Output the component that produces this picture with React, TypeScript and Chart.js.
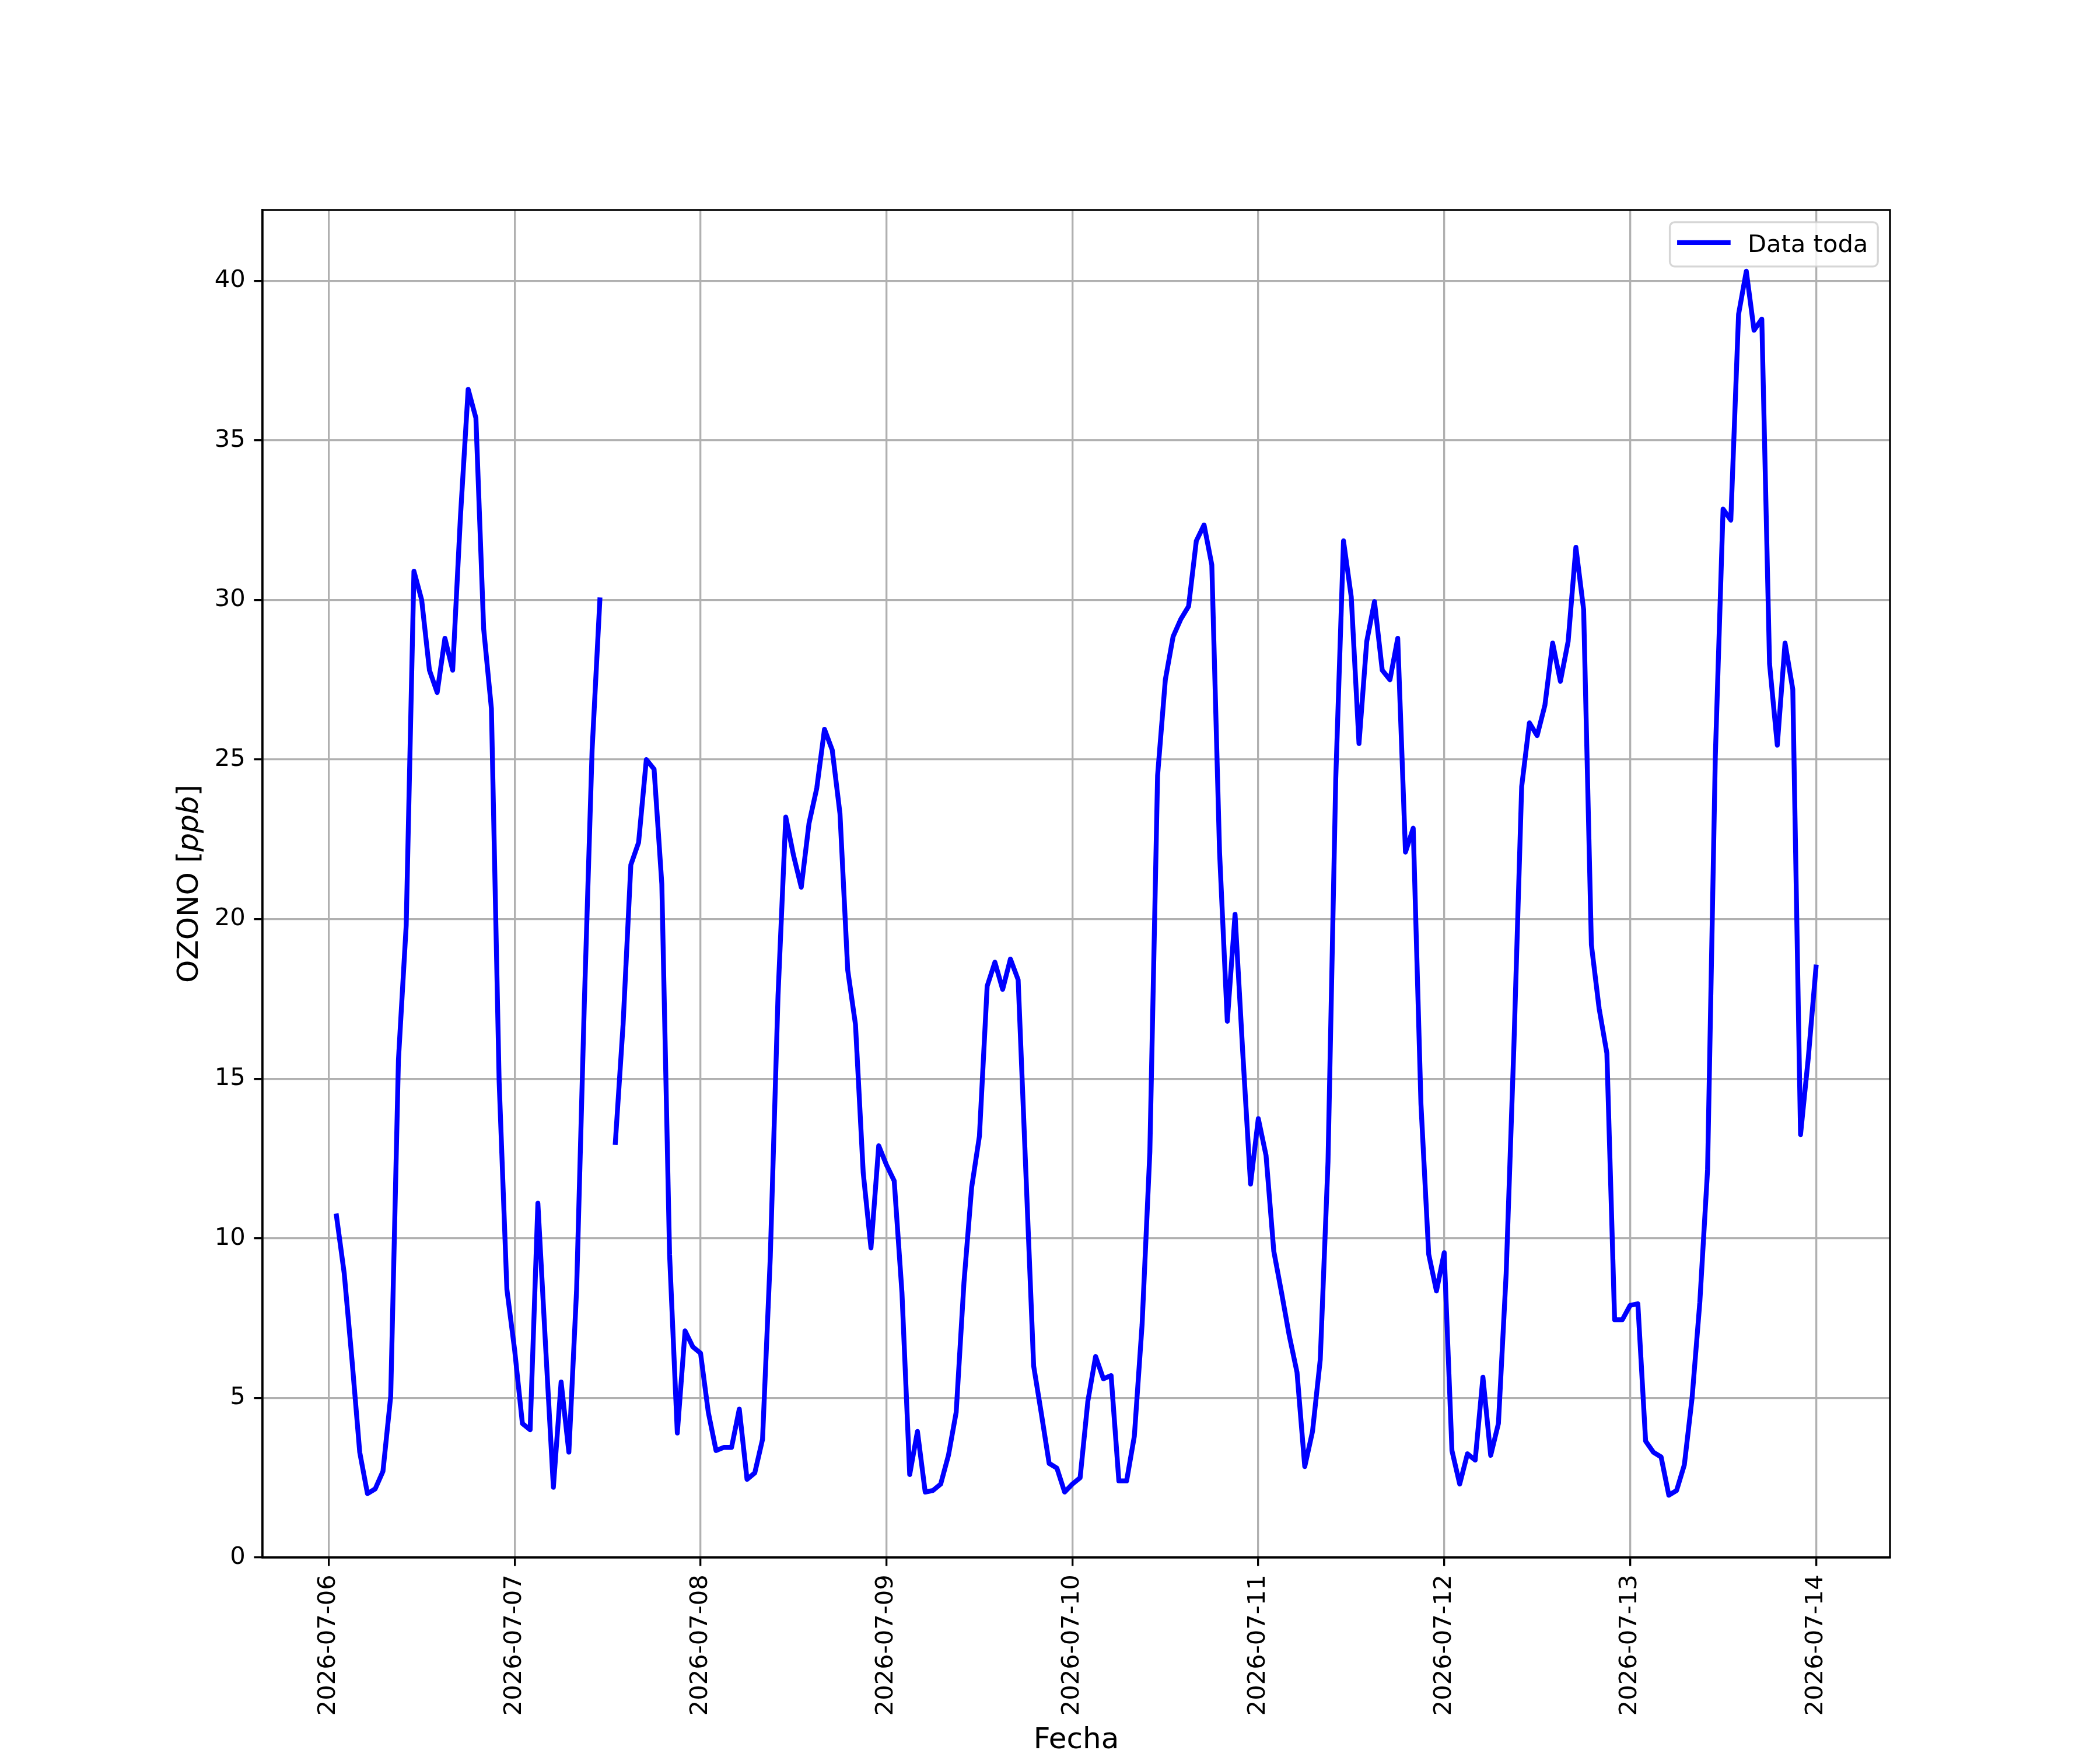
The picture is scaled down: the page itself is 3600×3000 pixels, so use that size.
import React, { useEffect, useRef } from 'react';
import { Chart, registerables } from 'chart.js';

Chart.register(...registerables);

// Tick labels (one per day, ticks every 24 h from 2026-07-06 00:00)
const dayLabels = [
  '2026-07-06', '2026-07-07', '2026-07-08', '2026-07-09', '2026-07-10',
  '2026-07-11', '2026-07-12', '2026-07-13', '2026-07-14',
];

// Hourly ozone [ppb], hours 01:00 .. 24:00 of each day (null = missing)
const ozoneJul06 = [10.7, 8.9, 6.2, 3.3, 2.0, 2.15, 2.7, 5.05, 15.6, 19.8, 30.9, 30.0, 27.8, 27.1, 28.8, 27.8, 32.6, 36.6, 35.7, 29.1, 26.6, 14.9, 8.4, 6.5];
const ozoneJul07 = [4.2, 4.0, 11.1, 6.6, 2.2, 5.5, 3.3, 8.4, 17.4, 25.3, 30.0, null, 13.0, 16.7, 21.7, 22.4, 25.0, 24.7, 21.1, 9.5, 3.9, 7.1, 6.6, 6.4];
const ozoneJul08 = [4.55, 3.35, 3.45, 3.45, 4.65, 2.45, 2.65, 3.7, 9.4, 17.6, 23.2, 22.0, 21.0, 23.0, 24.1, 25.95, 25.3, 23.3, 18.4, 16.7, 12.05, 9.7, 12.9, 12.3];
const ozoneJul09 = [11.8, 8.3, 2.6, 3.95, 2.05, 2.1, 2.3, 3.2, 4.55, 8.6, 11.6, 13.2, 17.9, 18.65, 17.8, 18.75, 18.1, 12.05, 6.0, 4.5, 2.95, 2.8, 2.05, 2.3];
const ozoneJul10 = [2.5, 4.9, 6.3, 5.6, 5.7, 2.4, 2.4, 3.8, 7.3, 12.7, 24.5, 27.5, 28.85, 29.4, 29.8, 31.85, 32.35, 31.1, 22.1, 16.8, 20.15, 15.8, 11.7, 13.75];
const ozoneJul11 = [12.6, 9.6, 8.3, 6.95, 5.8, 2.85, 3.95, 6.2, 12.4, 24.4, 31.85, 30.1, 25.5, 28.7, 29.95, 27.8, 27.5, 28.8, 22.1, 22.85, 14.2, 9.5, 8.35, 9.55];
const ozoneJul12 = [3.35, 2.3, 3.25, 3.05, 5.65, 3.2, 4.2, 8.9, 16.05, 24.15, 26.15, 25.75, 26.7, 28.65, 27.45, 28.7, 31.65, 29.7, 19.2, 17.2, 15.8, 7.45, 7.45, 7.9];
const ozoneJul13 = [7.95, 3.65, 3.3, 3.15, 1.95, 2.1, 2.9, 5.0, 8.0, 12.15, 25.1, 32.85, 32.5, 38.95, 40.3, 38.45, 38.8, 28.0, 25.45, 28.65, 27.2, 13.25, 15.65, 18.5];

const yTickValues = [0, 5, 10, 15, 20, 25, 30, 35, 40];

const seriesLabel = 'Data toda';
const xTitle = 'Fecha';
const yTitleMain = 'OZONO [';
const yTitleUnit = 'ppb';
const yTitleEnd = ']';

const W = 3600;
const H = 3000;
const FONT = "'DejaVu Sans'";
const DPI_SCALE = 300 / 72;
const LINE_W = 2 * DPI_SCALE;
const THIN = 0.8 * DPI_SCALE;
const TICK_LEN = 3.5 * DPI_SCALE;
const TICK_FONT = 10 * DPI_SCALE;
const LABEL_FONT = 12 * DPI_SCALE;

export default function App() {
  const ref = useRef<HTMLCanvasElement | null>(null);

  useEffect(() => {
    document.body.style.margin = '0';
    const canvas = ref.current;
    if (!canvas) return;

    const allValues = [
      ...ozoneJul06, ...ozoneJul07, ...ozoneJul08, ...ozoneJul09,
      ...ozoneJul10, ...ozoneJul11, ...ozoneJul12, ...ozoneJul13,
    ];
    const points = allValues.map((v, i) => ({ x: i + 1, y: v }));

    const xs = points.map((p) => p.x);
    const xLo = Math.min(...xs);
    const xHi = Math.max(...xs);
    const xMin = xLo - 0.05 * (xHi - xLo);
    const xMax = xHi + 0.05 * (xHi - xLo);
    const ys = allValues.filter((v) => v !== null) as number[];
    const yLo = Math.min(...ys);
    const yHi = Math.max(...ys);
    const yMax = yHi + 0.05 * (yHi - yLo);

    const framePlugin = {
      id: 'mplFrame',
      beforeDraw(chart: any) {
        const ctx = chart.ctx;
        ctx.save();
        ctx.fillStyle = '#ffffff';
        ctx.fillRect(0, 0, chart.width, chart.height);
        ctx.restore();
      },
      afterDraw(chart: any) {
        const ctx = chart.ctx as CanvasRenderingContext2D;
        const a = chart.chartArea;
        ctx.save();
        // spines
        ctx.strokeStyle = '#000000';
        ctx.lineWidth = THIN;
        ctx.lineJoin = 'miter';
        ctx.strokeRect(a.left, a.top, a.right - a.left, a.bottom - a.top);

        // legend
        const fs = TICK_FONT;
        const bw = 356.6;
        const bh = 76;
        const bx0 = a.right - 0.5 * fs - bw;
        const by0 = a.top + 0.5 * fs;
        const r = 0.2 * fs;
        ctx.beginPath();
        ctx.moveTo(bx0 + r, by0);
        ctx.lineTo(bx0 + bw - r, by0);
        ctx.arcTo(bx0 + bw, by0, bx0 + bw, by0 + r, r);
        ctx.lineTo(bx0 + bw, by0 + bh - r);
        ctx.arcTo(bx0 + bw, by0 + bh, bx0 + bw - r, by0 + bh, r);
        ctx.lineTo(bx0 + r, by0 + bh);
        ctx.arcTo(bx0, by0 + bh, bx0, by0 + bh - r, r);
        ctx.lineTo(bx0, by0 + r);
        ctx.arcTo(bx0, by0, bx0 + r, by0, r);
        ctx.closePath();
        ctx.fillStyle = 'rgba(255,255,255,0.8)';
        ctx.fill();
        ctx.strokeStyle = 'rgba(204,204,204,0.8)';
        ctx.lineWidth = THIN;
        ctx.stroke();

        const hx0 = bx0 + 0.4 * fs;
        const hx1 = hx0 + 2.0 * fs;
        const hy = by0 + 35;
        ctx.beginPath();
        ctx.moveTo(hx0, hy);
        ctx.lineTo(hx1, hy);
        ctx.strokeStyle = '#0000ff';
        ctx.lineWidth = LINE_W;
        ctx.lineCap = 'square';
        ctx.stroke();

        ctx.fillStyle = '#000000';
        ctx.font = `${fs}px ${FONT}`;
        ctx.textAlign = 'left';
        ctx.textBaseline = 'alphabetic';
        ctx.fillText(seriesLabel, hx1 + 0.8 * fs, by0 + 51);

        // x title
        ctx.font = `${LABEL_FONT}px ${FONT}`;
        ctx.textAlign = 'center';
        ctx.fillText(xTitle, (a.left + a.right) / 2, 2997);

        // y title (rotated, with italic unit)
        ctx.save();
        ctx.translate(339, (a.top + a.bottom) / 2);
        ctx.rotate(-Math.PI / 2);
        ctx.textAlign = 'left';
        const regular = `${LABEL_FONT}px ${FONT}`;
        const italic = `italic ${LABEL_FONT}px ${FONT}`;
        ctx.font = regular;
        const w1 = ctx.measureText(yTitleMain).width;
        const w3 = ctx.measureText(yTitleEnd).width;
        ctx.font = italic;
        const w2 = ctx.measureText(yTitleUnit).width;
        let x = -(w1 + w2 + w3) / 2;
        ctx.font = regular;
        ctx.fillText(yTitleMain, x, 0);
        x += w1;
        ctx.font = italic;
        ctx.fillText(yTitleUnit, x, 0);
        x += w2;
        ctx.font = regular;
        ctx.fillText(yTitleEnd, x, 0);
        ctx.restore();

        ctx.restore();
      },
    };

    const gridOpts = {
      display: true,
      color: '#b0b0b0',
      lineWidth: THIN,
      drawTicks: true,
      tickLength: TICK_LEN,
      tickColor: '#000000',
      tickWidth: THIN,
    };
    const borderOpts = { display: true, color: '#000000', width: THIN };
    const tickFont = { family: 'DejaVu Sans', size: TICK_FONT };

    const chart = new Chart(canvas, {
      type: 'line',
      data: {
        datasets: [
          {
            label: seriesLabel,
            data: points as any,
            borderColor: '#0000ff',
            backgroundColor: '#0000ff',
            borderWidth: LINE_W,
            pointRadius: 0,
            tension: 0,
            fill: false,
            spanGaps: false,
            borderJoinStyle: 'round',
            borderCapStyle: 'square',
          },
        ],
      },
      options: {
        animation: false,
        responsive: false,
        maintainAspectRatio: false,
        devicePixelRatio: 1,
        events: [],
        layout: { padding: { top: 360, right: 360, bottom: 0, left: 0 } },
        plugins: {
          legend: { display: false },
          tooltip: { enabled: false },
          title: { display: false },
        },
        scales: {
          x: {
            type: 'linear',
            min: xMin,
            max: xMax,
            afterFit: (s: any) => {
              s.height = 330;
            },
            afterBuildTicks: (s: any) => {
              s.ticks = dayLabels.map((_, i) => ({ value: i * 24 }));
            },
            ticks: {
              autoSkip: false,
              minRotation: 90,
              maxRotation: 90,
              padding: TICK_LEN,
              color: '#000000',
              font: tickFont,
              callback: (v: any) => dayLabels[Math.round(Number(v) / 24)],
            },
            grid: gridOpts,
            border: borderOpts,
          },
          y: {
            type: 'linear',
            min: 0,
            max: yMax,
            afterFit: (s: any) => {
              s.width = 450;
            },
            afterBuildTicks: (s: any) => {
              s.ticks = yTickValues.map((v) => ({ value: v }));
            },
            ticks: {
              autoSkip: false,
              padding: TICK_LEN,
              color: '#000000',
              font: tickFont,
              callback: (v: any) => String(v),
            },
            grid: gridOpts,
            border: borderOpts,
          },
        },
      } as any,
      plugins: [framePlugin],
    });

    return () => {
      chart.destroy();
    };
  }, []);

  return (
    <div style={{ width: W, height: H, background: '#ffffff' }}>
      <canvas ref={ref} width={W} height={H} style={{ width: W, height: H, display: 'block' }} />
    </div>
  );
}
